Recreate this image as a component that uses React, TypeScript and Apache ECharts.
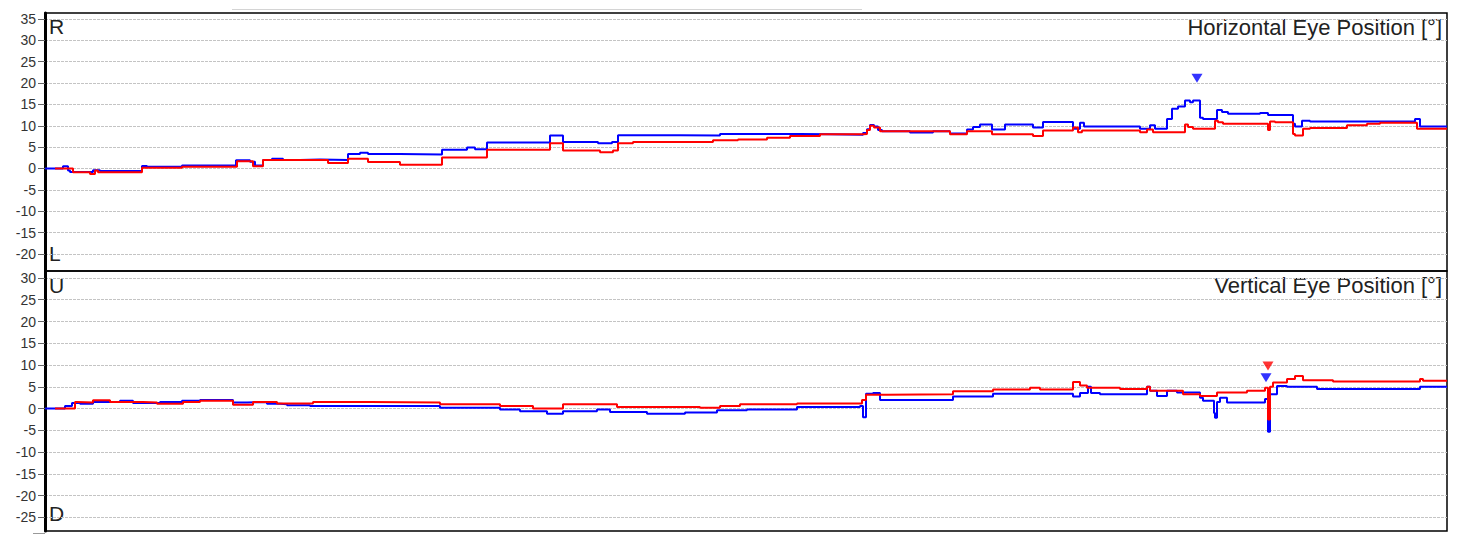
import * as echarts from "echarts";
import { useEffect, useRef } from "react";

// time in samples, value in degrees
const horizRight: [number, number][] = [
  [0, 0], [18, 0.5], [23, -0.5], [25, -0.8], [48, -0.4], [55, -0.6], [97, 0.6], [102, 0.4],
  [137, 0.7], [191, 1.9], [205, 1.6], [210, 0.7], [218, 2.0], [227, 2.3], [238, 2.0], [255, 2.1],
  [275, 2.0], [303, 3.4], [315, 3.7], [323, 3.4], [355, 3.3], [397, 4.4], [422, 4.9], [430, 4.5],
  [442, 6.1], [505, 7.7], [518, 6.2], [553, 5.9], [567, 6.2], [573, 7.8], [635, 7.7], [675, 8.1],
  [755, 8.0], [785, 7.9], [818, 8.3], [822, 9.2], [825, 10.2], [829, 9.8], [833, 9.0], [837, 8.7],
  [865, 8.4], [888, 8.7], [905, 8.2], [922, 9.1], [928, 9.7], [935, 10.3], [947, 9.1], [960, 10.3],
  [988, 9.6], [998, 10.9], [1028, 9.3], [1035, 10.7], [1039, 9.8], [1095, 9.3], [1105, 10.1],
  [1110, 9.3], [1122, 11.6], [1127, 14.0], [1133, 14.5], [1140, 15.9], [1145, 15.5], [1148, 15.9],
  [1155, 11.9], [1158, 11.6], [1172, 13.7], [1177, 13.2], [1183, 12.8], [1215, 13.0], [1223, 12.5],
  [1248, 10.5], [1250, 9.8], [1257, 11.2], [1265, 11.0], [1370, 11.6], [1375, 9.8], [1402, 9.8],
];

const horizLeft: [number, number][] = [
  [10, 0], [28, -0.9], [45, -1.3], [50, -0.5], [53, -0.9], [97, 0.2], [137, 0.4], [192, 1.7],
  [208, 0.5], [218, 2.0], [283, 1.3], [303, 2.3], [323, 1.5], [355, 0.9], [397, 2.6], [442, 4.4],
  [505, 5.9], [518, 4.2], [555, 3.8], [568, 4.2], [573, 5.9], [588, 6.2], [668, 6.6], [693, 6.8],
  [722, 7.2], [745, 7.6], [775, 8.0], [818, 8.1], [822, 9.0], [825, 10.0], [829, 9.6], [835, 8.7],
  [905, 8.0], [922, 8.7], [947, 8.0], [988, 7.6], [998, 8.9], [1028, 9.6], [1033, 8.5], [1037, 8.9],
  [1095, 8.5], [1102, 9.1], [1108, 8.5], [1140, 10.3], [1143, 9.7], [1148, 9.3], [1170, 11.2],
  [1173, 10.8], [1178, 10.5], [1223, 9.0], [1225, 11.0], [1230, 10.8], [1248, 8.1], [1250, 7.7],
  [1258, 9.3], [1265, 9.5], [1302, 10.1], [1322, 10.5], [1335, 10.7], [1372, 9.3], [1402, 9.4],
];

const vertRight: [number, number][] = [
  [0, 0], [20, 0.6], [27, 1.3], [35, 1.1], [48, 1.5], [75, 1.8], [88, 1.3], [115, 1.5], [137, 1.8],
  [155, 2.0], [188, 1.4], [202, 1.5], [222, 1.1], [235, 1.0], [242, 0.8], [265, 0.6], [395, 0.2],
  [455, -0.2], [475, -0.6], [502, -1.2], [518, -0.6], [552, -0.2], [565, -0.8], [602, -1.2],
  [640, -0.9], [672, -0.4], [702, -0.2], [752, 0.4], [815, 0.6], [818, -2.0], [821, 3.4],
  [828, 3.6], [835, 2.0], [908, 2.8], [948, 3.4], [1028, 2.8], [1035, 3.6], [1043, 5.0],
  [1046, 3.6], [1055, 3.3], [1102, 5.0], [1105, 4.1], [1112, 2.9], [1122, 4.1], [1132, 3.7],
  [1155, 2.5], [1158, 1.8], [1169, -1.0], [1170, -2.1], [1172, 1.5], [1175, 2.5], [1182, 1.4],
  [1220, 2.2], [1223, -5.3], [1225, 3.3], [1232, 5.2], [1242, 5.0], [1272, 4.5], [1375, 5.0],
  [1402, 5.0],
];

const vertLeft: [number, number][] = [
  [10, 0], [30, 1.5], [32, 1.4], [48, 1.9], [65, 1.5], [98, 1.4], [112, 1.1], [138, 1.5],
  [155, 1.8], [188, 0.9], [208, 1.5], [232, 1.2], [268, 1.5], [325, 1.4], [395, 1.0], [455, 0.6],
  [488, 0.0], [518, 1.0], [572, 0.4], [655, 0.2], [675, 0.6], [695, 1.0], [752, 1.2], [817, 2.0],
  [821, 3.2], [842, 3.3], [908, 4.0], [948, 4.4], [985, 4.8], [995, 4.4], [1028, 6.1], [1035, 5.3],
  [1042, 4.8], [1075, 4.5], [1102, 5.0], [1105, 4.1], [1138, 3.3], [1155, 2.9], [1172, 3.7],
  [1202, 4.1], [1220, 4.8], [1223, -2.5], [1225, 5.0], [1228, 6.0], [1242, 6.8], [1250, 7.5],
  [1258, 6.5], [1288, 6.2], [1375, 6.8], [1378, 6.4], [1402, 6.4],
];

// event markers (time, degrees)
const horizMarkersRight: [number, number][] = [[1152, 21.1]];
const vertMarkersLeft: [number, number][] = [[1223, 9.8]];
const vertMarkersRight: [number, number][] = [[1221, 7.1]];

const horizTicks = [-20, -15, -10, -5, 0, 5, 10, 15, 20, 25, 30, 35];
const vertTicks = [-25, -20, -15, -10, -5, 0, 5, 10, 15, 20, 25, 30];

const FONT = '"Liberation Sans", Arial, sans-serif';
const BLUE = "#0000ff";
const RED = "#ff0000";

function yAxisFor(gridIndex: number, min: number, max: number, ticks: number[]) {
  return {
    type: "value" as const,
    gridIndex,
    min,
    max,
    axisLine: { show: true, lineStyle: { color: "#000", width: 3 } },
    axisTick: { show: true, length: 7, customValues: ticks, lineStyle: { color: "#666" } },
    axisLabel: {
      customValues: ticks,
      color: "#333",
      fontSize: 14,
      fontFamily: FONT,
      margin: 9,
    },
    splitLine: { show: true, lineStyle: { color: "#c4c4c4", type: [3, 1], width: 1 } },
  };
}

function lineSeries(name: string, data: [number, number][], color: string, idx: number) {
  return {
    name,
    type: "line" as const,
    xAxisIndex: idx,
    yAxisIndex: idx,
    step: "end" as const,
    showSymbol: false,
    lineStyle: { color, width: 2 },
    itemStyle: { color },
    data,
  };
}

function markerSeries(data: [number, number][], color: string, idx: number) {
  return {
    type: "scatter" as const,
    xAxisIndex: idx,
    yAxisIndex: idx,
    symbol: "triangle",
    symbolRotate: 180,
    symbolSize: [11, 9],
    itemStyle: { color },
    data,
  };
}

export default function App() {
  const ref = useRef<HTMLDivElement>(null);

  useEffect(() => {
    document.body.style.margin = "0";
    if (!ref.current) return;
    const chart = echarts.init(ref.current, undefined, { renderer: "svg" });

    const letter = { fill: "#222", fontSize: 21, fontFamily: FONT };
    const heading = { fill: "#222", fontSize: 22, fontFamily: FONT };

    chart.setOption({
      animation: false,
      backgroundColor: "#fff",
      grid: [
        { left: 45, top: 13, width: 1402, height: 258, show: true, borderColor: "#000", borderWidth: 1.5 },
        { left: 45, top: 271, width: 1402, height: 260, show: true, borderColor: "#000", borderWidth: 1.5 },
      ],
      xAxis: [0, 1].map((i) => ({
        type: "value",
        gridIndex: i,
        min: 0,
        max: 1402,
        show: false,
      })),
      yAxis: [
        yAxisFor(0, -24, 36.4, horizTicks),
        yAxisFor(1, -28.1, 31.6, vertTicks),
      ],
      series: [
        lineSeries("Horizontal right", horizRight, BLUE, 0),
        lineSeries("Horizontal left", horizLeft, RED, 0),
        lineSeries("Vertical right", vertRight, BLUE, 1),
        lineSeries("Vertical left", vertLeft, RED, 1),
        markerSeries(horizMarkersRight, BLUE, 0),
        markerSeries(vertMarkersLeft, RED, 1),
        markerSeries(vertMarkersRight, BLUE, 1),
      ],
      graphic: [
        { type: "line", shape: { x1: 232, y1: 9.5, x2: 862, y2: 9.5 }, style: { stroke: "#d4d4d4", lineWidth: 1 } },
        { type: "line", shape: { x1: 33, y1: 533.5, x2: 45, y2: 533.5 }, style: { stroke: "#999", lineWidth: 1 } },
        { type: "text", left: 49, top: 16, style: { ...letter, text: "R" } },
        { type: "text", left: 49, top: 243, style: { ...letter, text: "L" } },
        { type: "text", left: 49, top: 275, style: { ...letter, text: "U" } },
        { type: "text", left: 49, top: 503, style: { ...letter, text: "D" } },
        { type: "text", right: 19, top: 16, style: { ...heading, text: "Horizontal Eye Position [°]" } },
        { type: "text", right: 19, top: 274, style: { ...heading, text: "Vertical Eye Position [°]" } },
      ],
    });

    return () => chart.dispose();
  }, []);

  return <div ref={ref} style={{ width: 1461, height: 543 }} />;
}
